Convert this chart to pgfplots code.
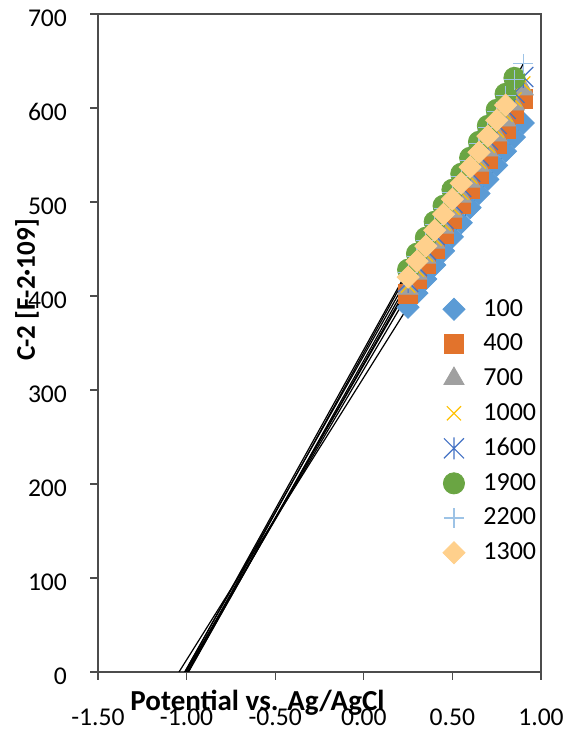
\documentclass[border=0pt]{standalone}
\usepackage{fontspec}
\setmainfont{Carlito}
\usepackage{pgfplots}
\pgfplotsset{compat=1.18}

\definecolor{cA}{HTML}{5B9BD5}
\definecolor{cB}{HTML}{E2732C}
\definecolor{cC}{HTML}{A0A0A0}
\definecolor{cD}{HTML}{FFC000}
\definecolor{cE}{HTML}{4472C4}
\definecolor{cF}{HTML}{6AA543}
\definecolor{cG}{HTML}{9DC3E6}
\definecolor{cH}{HTML}{FFD08C}

% X with a vertical bar, like the spreadsheet "star" marker
\pgfdeclareplotmark{xstar}{%
  \pgfpathmoveto{\pgfqpoint{-\pgfplotmarksize}{-\pgfplotmarksize}}%
  \pgfpathlineto{\pgfqpoint{\pgfplotmarksize}{\pgfplotmarksize}}%
  \pgfpathmoveto{\pgfqpoint{-\pgfplotmarksize}{\pgfplotmarksize}}%
  \pgfpathlineto{\pgfqpoint{\pgfplotmarksize}{-\pgfplotmarksize}}%
  \pgfpathmoveto{\pgfqpoint{0pt}{-1.1\pgfplotmarksize}}%
  \pgfpathlineto{\pgfqpoint{0pt}{1.1\pgfplotmarksize}}%
  \pgfusepathqstroke}

\begin{document}
\begin{tikzpicture}
\begin{axis}[
    scale only axis,
    width=221.5pt, height=329pt,
    xmin=-1.5, xmax=1, ymin=0, ymax=700,
    xtick={-1.5,-1,-0.5,0,0.5,1},
    xticklabels={-1.50,-1.00,-0.50,0.00,0.50,1.00},
    ytick={0,100,...,700},
    tick pos=left,
    tick align=outside,
    major tick length=4pt,
    axis line style={black!70, line width=0.6pt},
    every tick/.style={black!70, line width=0.6pt},
    tick label style={font=\fontsize{12.8}{14}\selectfont},
    /pgf/number format/assume math mode=true,
    xticklabel style={yshift=-11pt},
    yticklabel style={xshift=-8pt, yshift=-2pt},
    xlabel={Potential vs. Ag/AgCl},
    xlabel style={at={(axis description cs:0.360,-0.047)}, anchor=center,
        font=\bfseries\fontsize{14.5}{16}\selectfont},
    ylabel={C-2 [F-2·109]},
    ylabel style={at={(axis description cs:-0.160,0.581)}, anchor=center,
        font=\bfseries\fontsize{13.5}{15}\selectfont},
    legend style={draw=none, fill=none, at={(0.776,0.573)}, anchor=north west,
        inner sep=0pt, row sep=3.4pt, font=\fontsize{13}{15}\selectfont},
    legend cell align=left,
    legend image code/.code={\path (-0.2cm,0) (0.44cm,0);
        \draw[#1] plot coordinates {(0cm,0cm)};},
]
\coordinate (bl) at (rel axis cs:0,0);
\coordinate (tr) at (rel axis cs:1,1);

% linear trendlines, extended back to the axis
\addplot[black, line width=0.6pt, forget plot] coordinates {(-1.043,0) (0.90,584)};
\addplot[black, line width=0.6pt, forget plot] coordinates {(-1.006,0) (0.90,610)};
\addplot[black, line width=0.6pt, forget plot] coordinates {(-1.002,0) (0.90,620)};
\addplot[black, line width=0.6pt, forget plot] coordinates {(-0.992,0) (0.90,626)};
\addplot[black, line width=0.6pt, forget plot] coordinates {(-0.989,0) (0.90,633)};
\addplot[black, line width=0.6pt, forget plot] coordinates {(-1.009,0) (0.85,632)};
\addplot[black, line width=0.6pt, forget plot] coordinates {(-0.995,0) (0.90,647)};
\addplot[black, line width=0.6pt, forget plot] coordinates {(-1.011,0) (0.80,603)};

% 100
\addplot[only marks, color=cA, mark=square*, mark size=3.9pt, mark options={rotate=45}] coordinates {
 (0.25,388) (0.30,403) (0.35,418) (0.40,433) (0.45,448) (0.50,463) (0.55,478)
 (0.60,494) (0.65,509) (0.70,524) (0.75,539) (0.80,554) (0.85,569) (0.90,584)};
\addlegendentry{100}
% 400
\addplot[only marks, color=cB, mark=square*, mark size=4.7pt] coordinates {
 (0.25,402) (0.30,418) (0.35,434) (0.40,450) (0.45,466) (0.50,482) (0.55,498)
 (0.60,514) (0.65,530) (0.70,546) (0.75,562) (0.80,578) (0.85,594) (0.90,610)};
\addlegendentry{400}
% 700
\addplot[only marks, color=cC, mark=triangle*, mark size=5.8pt] coordinates {
 (0.25,408) (0.30,424) (0.35,441) (0.40,457) (0.45,473) (0.50,490) (0.55,506)
 (0.60,522) (0.65,539) (0.70,555) (0.75,571) (0.80,587) (0.85,604) (0.90,620)};
\addlegendentry{700}
% 1000
\addplot[only marks, color=cD, mark=x, mark size=5pt, mark options={line width=0.6pt}] coordinates {
 (0.25,411) (0.30,428) (0.35,444) (0.40,461) (0.45,477) (0.50,494) (0.55,510)
 (0.60,527) (0.65,543) (0.70,560) (0.75,576) (0.80,593) (0.85,609) (0.90,626)};
\addlegendentry{1000}
% 1600
\addplot[only marks, color=cE, mark=xstar, mark size=5pt, mark options={line width=0.6pt}] coordinates {
 (0.25,415) (0.30,432) (0.35,449) (0.40,465) (0.45,482) (0.50,499) (0.55,516)
 (0.60,532) (0.65,549) (0.70,566) (0.75,583) (0.80,599) (0.85,616) (0.90,633)};
\addlegendentry{1600}
% 1900
\addplot[only marks, color=cF, mark=*, mark size=5.3pt] coordinates {
 (0.25,428) (0.30,445) (0.35,462) (0.40,479) (0.45,496) (0.50,513) (0.55,530)
 (0.60,547) (0.65,564) (0.70,581) (0.75,598) (0.80,615) (0.85,632)};
\addlegendentry{1900}
% 2200
\addplot[only marks, color=cG, mark=+, mark size=5pt, mark options={line width=0.6pt}] coordinates {
 (0.25,425) (0.30,442) (0.35,459) (0.40,476) (0.45,493) (0.50,510) (0.55,527)
 (0.60,544) (0.65,562) (0.70,579) (0.75,596) (0.80,613) (0.85,630) (0.90,647)};
\addlegendentry{2200}
% 1300
\addplot[only marks, color=cH, mark=square*, mark size=3.9pt, mark options={rotate=45}] coordinates {
 (0.25,420) (0.30,437) (0.35,453) (0.40,470) (0.45,487) (0.50,503) (0.55,520)
 (0.60,537) (0.65,553) (0.70,570) (0.75,587) (0.80,603)};
\addlegendentry{1300}
\end{axis}
\pgfresetboundingbox
\path[use as bounding box] ([shift={(-49pt,-29.5pt)}]bl) rectangle ([shift={(15pt,7pt)}]tr);
\end{tikzpicture}
\end{document}
